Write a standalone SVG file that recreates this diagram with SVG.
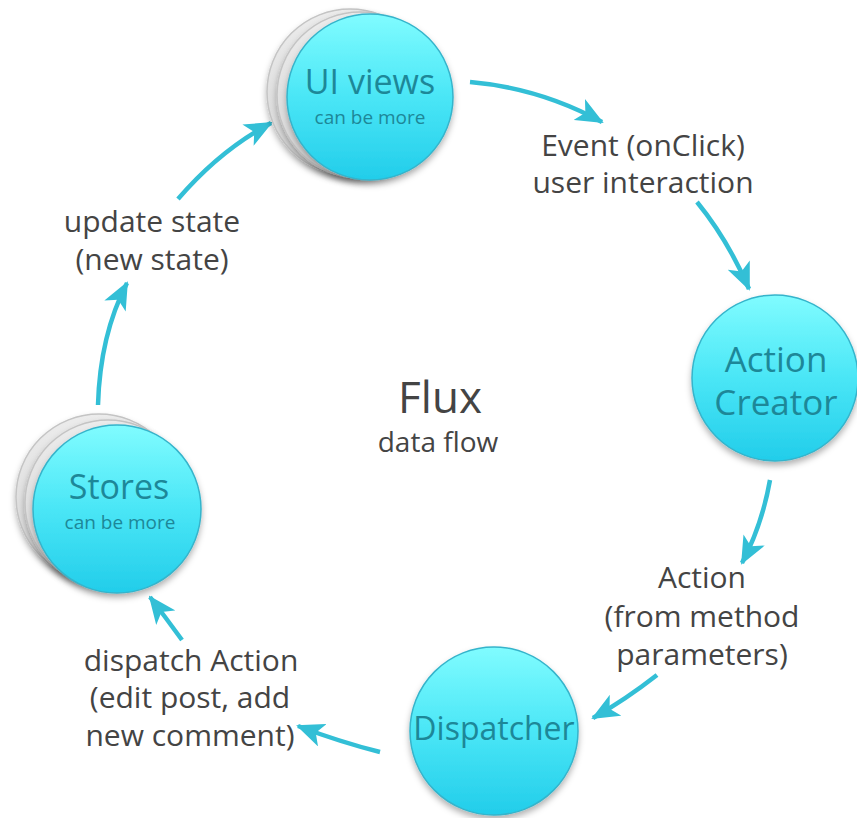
<svg xmlns="http://www.w3.org/2000/svg" width="857" height="818" viewBox="0 0 857 818">
<defs>
<linearGradient id="gc" x1="0" y1="0" x2="0" y2="1">
<stop offset="0" stop-color="#80fcff"/>
<stop offset="0.5" stop-color="#4ae6f6"/>
<stop offset="1" stop-color="#22cdea"/>
</linearGradient>
<linearGradient id="gg" x1="0" y1="0" x2="0" y2="1">
<stop offset="0" stop-color="#ececec"/>
<stop offset="1" stop-color="#d6d6d6"/>
</linearGradient>
<filter id="sh" x="-20%" y="-20%" width="140%" height="150%">
<feDropShadow dx="0" dy="4" stdDeviation="3" flood-color="#000" flood-opacity="0.3"/>
</filter>
<marker id="ah" viewBox="0 0 28 24" refX="26" refY="12" markerWidth="28" markerHeight="24" markerUnits="userSpaceOnUse" orient="auto">
<path d="M0,0 L28,12 L0,24 L7,12 Z" fill="#33bfd6"/>
</marker>
<style>
.main{fill:url(#gc);stroke:#35b4cb;stroke-width:1.5}
.ghost{fill:url(#gg);stroke:#c4c4c4;stroke-width:1.5}
.nt{font-family:"Open Sans","DejaVu Sans",sans-serif;fill:#1d8798;text-anchor:middle}
.lt{font-family:"Open Sans","DejaVu Sans",sans-serif;fill:#444444;text-anchor:middle;font-size:30px}
.cn{fill:none;stroke:#33bfd6;stroke-width:4.5;marker-end:url(#ah)}
</style>
</defs>
<rect width="857" height="818" fill="#ffffff"/>

<g id="connectors">
<path class="cn" d="M470,82 Q540,88 602,122"/>
<path class="cn" d="M697,202 Q728,240 749,289"/>
<path class="cn" d="M770,480 Q762,525 742,563"/>
<path class="cn" d="M657,675 Q625,700 593,718"/>
<path class="cn" d="M380,752 Q340,742 298,726"/>
<path class="cn" d="M182,640 Q166,618 150,597"/>
<path class="cn" d="M98,405 Q100,335 127,283"/>
<path class="cn" d="M178,199 Q220,150 271,123"/>
</g>

<g id="ui-views">
<circle class="ghost" cx="350" cy="92" r="83" filter="url(#sh)"/>
<circle class="ghost" cx="360" cy="95" r="83" filter="url(#sh)"/>
<circle class="main" cx="370" cy="97" r="83" filter="url(#sh)"/>
<text class="nt" x="370" y="94" style="font-size:34px">UI views</text>
<text class="nt" x="370" y="124" style="font-size:19px">can be more</text>
</g>

<g id="action-creator">
<circle class="main" cx="775" cy="378" r="83" filter="url(#sh)"/>
<text class="nt" x="776" y="372" style="font-size:35px">Action</text>
<text class="nt" x="776" y="415" style="font-size:35px">Creator</text>
</g>

<g id="dispatcher">
<circle class="main" cx="494" cy="731" r="84" filter="url(#sh)"/>
<text class="nt" x="494" y="740" style="font-size:32px">Dispatcher</text>
</g>

<g id="stores">
<circle class="ghost" cx="99" cy="497" r="83" filter="url(#sh)"/>
<circle class="ghost" cx="108" cy="503" r="83" filter="url(#sh)"/>
<circle class="main" cx="117" cy="509" r="84" filter="url(#sh)"/>
<text class="nt" x="119" y="499" style="font-size:34px">Stores</text>
<text class="nt" x="120" y="529" style="font-size:19px">can be more</text>
</g>

<g id="labels">
<text class="lt" x="643" y="156">Event (onClick)</text>
<text class="lt" x="643" y="193">user interaction</text>
<text class="lt" x="702" y="588">Action</text>
<text class="lt" x="702" y="627">(from method</text>
<text class="lt" x="702" y="665">parameters)</text>
<text class="lt" x="191" y="671">dispatch Action</text>
<text class="lt" x="190" y="708">(edit post, add</text>
<text class="lt" x="190" y="746">new comment)</text>
<text class="lt" x="152" y="232">update state</text>
<text class="lt" x="152" y="270">(new state)</text>
<text class="lt" x="440" y="413" style="font-size:44px">Flux</text>
<text class="lt" x="438" y="452" style="font-size:28px">data flow</text>
</g>
</svg>
